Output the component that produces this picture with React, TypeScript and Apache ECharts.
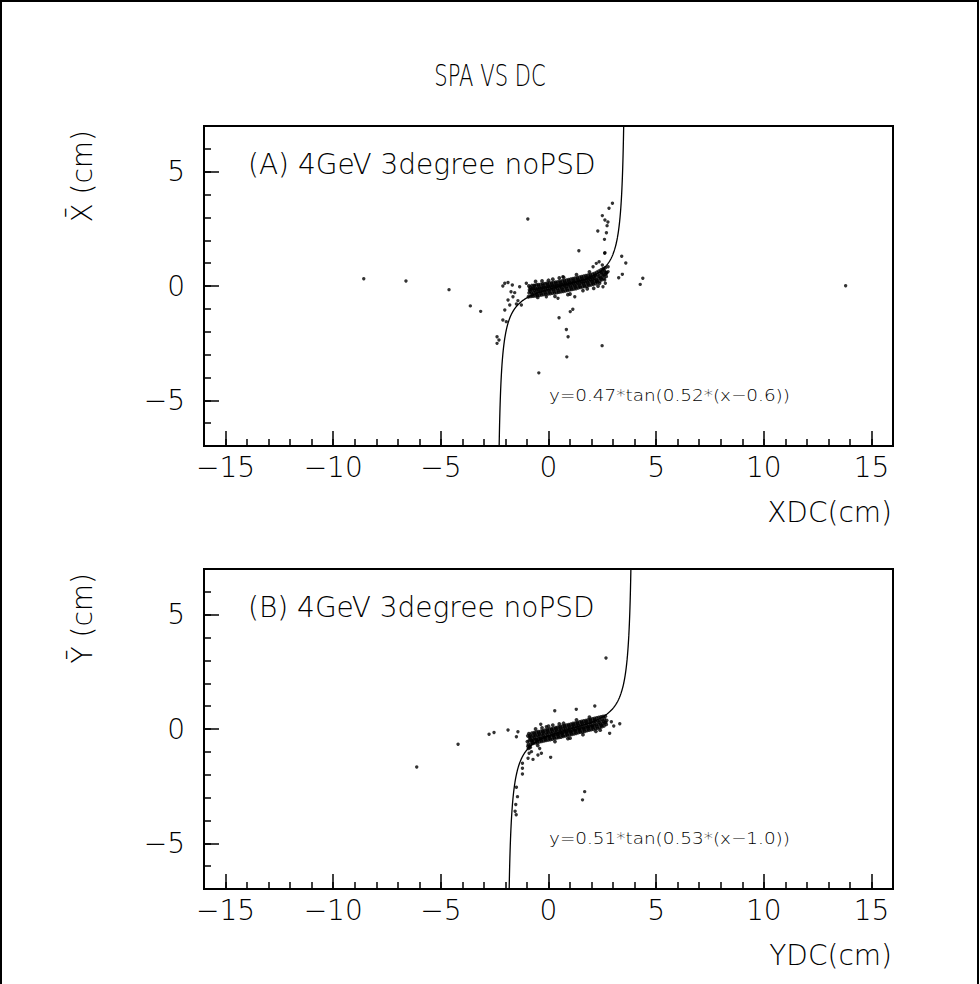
import React, { useEffect, useRef } from "react";
import * as echarts from "echarts";

// ---------- axes ----------
const X_RANGE = [-16, 16];
const Y_RANGE = [-7, 7];
const X_MAJOR = [-15, -10, -5, 0, 5, 10, 15];
const X_MINOR = [-15, -14, -13, -12, -11, -10, -9, -8, -7, -6, -5, -4, -3, -2, -1, 0, 1, 2, 3, 4, 5, 6, 7, 8, 9, 10, 11, 12, 13, 14, 15];
const Y_MAJOR = [-5, 0, 5];
const Y_MINOR = [-6, -5, -4, -3, -2, -1, 0, 1, 2, 3, 4, 5, 6];

// ---------- texts ----------
const TITLE = "SPA VS DC";
const PANEL_LABELS = ["(A) 4GeV 3degree noPSD", "(B) 4GeV 3degree noPSD"];
const FIT_LABELS = ["y=0.47*tan(0.52*(x\u22120.6))", "y=0.51*tan(0.53*(x\u22121.0))"];
const X_NAMES = ["XDC(cm)", "YDC(cm)"];
const Y_NAMES = ["X\u0304 (cm)", "Y\u0304 (cm)"];

// ---------- fit parameters a*tan(b*(x-c)) ----------
const FIT_A = [0.47, 0.52, 0.6];
const FIT_B = [0.51, 0.53, 1.0];

// ---------- panel A points ----------
const bandA: number[][] = [
  [-0.93, -0.47], [-0.9, -0.3], [-0.88, -0.16], [-0.91, 0.0],
  [-0.82, -0.45], [-0.79, -0.3], [-0.81, -0.14], [-0.77, 0.02],
  [-0.72, -0.44], [-0.69, -0.28], [-0.71, -0.12], [-0.67, 0.03],
  [-0.62, -0.43], [-0.58, -0.27], [-0.61, -0.11], [-0.56, 0.05],
  [-0.52, -0.42], [-0.48, -0.26], [-0.51, -0.1], [-0.47, 0.06],
  [-0.42, -0.4], [-0.38, -0.24], [-0.41, -0.08], [-0.36, 0.07],
  [-0.32, -0.39], [-0.28, -0.23], [-0.31, -0.07], [-0.26, 0.09],
  [-0.22, -0.37], [-0.18, -0.21], [-0.21, -0.05], [-0.16, 0.1],
  [-0.12, -0.36], [-0.08, -0.2], [-0.11, -0.04], [-0.06, 0.12],
  [-0.02, -0.34], [0.02, -0.18], [-0.01, -0.02], [0.04, 0.13],
  [0.08, -0.33], [0.12, -0.17], [0.09, -0.01], [0.14, 0.14],
  [0.18, -0.31], [0.22, -0.15], [0.19, 0.01], [0.24, 0.16],
  [0.28, -0.3], [0.32, -0.14], [0.29, 0.02], [0.34, 0.17],
  [0.38, -0.29], [0.42, -0.13], [0.39, 0.03], [0.44, 0.18],
  [0.48, -0.27], [0.52, -0.11], [0.49, 0.05], [0.54, 0.2],
  [0.58, -0.25], [0.62, -0.09], [0.59, 0.07], [0.64, 0.22],
  [0.68, -0.23], [0.72, -0.07], [0.69, 0.09], [0.74, 0.24],
  [0.78, -0.21], [0.82, -0.05], [0.79, 0.11], [0.84, 0.26],
  [0.88, -0.19], [0.92, -0.03], [0.89, 0.13], [0.94, 0.28],
  [0.98, -0.17], [1.02, -0.01], [0.99, 0.15], [1.04, 0.3],
  [1.08, -0.15], [1.12, 0.01], [1.09, 0.17], [1.14, 0.32],
  [1.18, -0.13], [1.22, 0.03], [1.19, 0.19], [1.24, 0.34],
  [1.28, -0.11], [1.32, 0.05], [1.29, 0.21], [1.34, 0.36],
  [1.38, -0.08], [1.42, 0.08], [1.39, 0.24], [1.44, 0.39],
  [1.48, -0.06], [1.52, 0.1], [1.49, 0.26], [1.54, 0.41],
  [1.58, -0.04], [1.62, 0.12], [1.59, 0.28], [1.64, 0.43],
  [1.68, -0.02], [1.72, 0.14], [1.69, 0.3], [1.74, 0.45],
  [1.78, 0.0], [1.82, 0.16], [1.79, 0.32], [1.84, 0.47],
  [1.88, 0.03], [1.92, 0.19], [1.89, 0.35], [1.94, 0.5],
  [1.98, 0.05], [2.02, 0.21], [1.99, 0.37], [2.04, 0.52],
  [2.08, 0.08], [2.12, 0.24], [2.09, 0.4], [2.14, 0.55],
  [2.18, 0.11], [2.22, 0.28], [2.19, 0.44], [2.24, 0.6],
  [2.28, 0.16], [2.32, 0.33], [2.29, 0.49], [2.34, 0.65],
  [2.38, 0.21], [2.42, 0.38], [2.39, 0.54], [2.44, 0.7],
  [2.48, 0.28], [2.52, 0.45], [2.49, 0.61], [2.54, 0.76],
  [2.58, 0.34], [2.62, 0.5], [2.59, 0.66], [2.64, 0.8],
  [2.68, 0.42], [2.7, 0.58],
  [-0.85, -0.22], [-0.75, -0.38], [-0.65, -0.19], [-0.55, -0.35], [-0.45, -0.17], [-0.35, -0.32],
  [-0.25, -0.14], [-0.15, -0.29], [-0.05, -0.11], [0.05, -0.26], [0.15, -0.08], [0.25, -0.22],
  [0.35, -0.05], [0.45, -0.2], [0.55, -0.02], [0.65, -0.16], [0.75, 0.02], [0.85, -0.12],
  [0.95, 0.06], [1.05, -0.08], [1.15, 0.1], [1.25, -0.04], [1.35, 0.14], [1.45, 0.0],
  [1.55, 0.18], [1.65, 0.04], [1.75, 0.23], [1.85, 0.09], [1.95, 0.28], [2.05, 0.14],
  [2.15, 0.34], [2.25, 0.22], [2.35, 0.42], [2.45, 0.32], [2.55, 0.5], [2.65, 0.6],
  [-0.85, -0.05], [-0.65, 0.0], [-0.45, -0.01], [-0.25, 0.02], [-0.05, 0.05], [0.15, 0.08],
  [0.35, 0.11], [0.55, 0.14], [0.75, 0.17], [0.95, 0.21], [1.15, 0.25], [1.35, 0.29],
  [1.55, 0.33], [1.75, 0.37], [1.95, 0.42], [2.15, 0.47],
  [-0.75, -0.12], [-0.55, -0.15], [-0.35, -0.12], [-0.15, -0.08], [0.05, -0.04], [0.25, -0.01],
  [0.45, 0.02], [0.65, 0.05], [0.85, 0.08], [1.05, 0.12], [1.25, 0.15], [1.45, 0.19],
  [1.65, 0.2], [1.85, 0.27], [2.05, 0.3],
  [-0.6, 0.2], [0.0, 0.25], [0.3, -0.45], [0.7, 0.38], [1.0, -0.35], [1.3, 0.5], [1.6, -0.2],
  [1.9, 0.62], [2.1, -0.1], [-0.3, 0.22], [0.5, 0.35], [0.9, -0.38], [1.8, -0.12], [2.3, 0.0],
  [-0.5, -0.5], [0.2, 0.3],
];
const outliersA: number[][] = [
  [-8.58, 0.32], [-6.62, 0.22], [-4.62, -0.16], [-3.63, -0.87], [-3.15, -1.11],
  [2.97, 3.62], [2.81, 3.4], [2.5, 3.08], [2.62, 2.89], [2.76, 2.8], [2.72, 2.64], [2.69, 2.33],
  [2.6, 2.04], [2.62, 1.46], [3.4, 1.3], [3.59, 1.01], [3.43, 0.51], [3.26, 0.36], [4.38, 0.34],
  [4.26, 0.07], [13.8, 0.01],
  [-0.96, 2.93], [1.41, 1.54], [2.29, 2.41], [2.61, 1.43],
  [0.49, -1.39], [0.83, -1.9], [0.91, -2.22], [1.01, -1.12], [1.13, -1.02], [2.49, -2.61],
  [0.85, -3.1], [-0.45, -3.8],
  [-2.03, -1.05], [-2.12, -1.49], [-1.96, -1.56], [-2.39, -2.22], [-2.3, -2.36], [-2.39, -2.51],
  [-2.03, 0.12], [-1.88, 0.15], [-1.68, 0.04], [-2.12, 0.0], [-1.74, -0.25], [-1.57, -0.29],
  [-1.65, -0.47], [-1.42, -0.64], [-1.49, -0.79], [-1.8, -0.83], [-1.26, -0.83], [-1.88, -0.61],
  [2.07, 0.84], [2.22, 0.99], [2.35, 1.06], [2.5, 0.92], [2.56, 0.73], [2.46, 0.58], [2.69, 0.56],
  [2.77, 0.63], [2.61, 0.26], [2.64, 0.12], [2.53, -0.03], [2.38, 0.12], [2.22, 0.19], [2.77, 0.84],
  [0.44, -0.54], [1.22, -0.47], [-0.1, -0.47], [0.67, 0.41], [-1.34, -0.03], [-1.03, 0.12],
];

// ---------- panel B points ----------
const bandB: number[][] = [
  [-0.93, -0.68], [-0.9, -0.52], [-0.88, -0.36], [-0.91, -0.2],
  [-0.82, -0.66], [-0.79, -0.5], [-0.81, -0.34], [-0.77, -0.18],
  [-0.72, -0.63], [-0.69, -0.47], [-0.71, -0.31], [-0.67, -0.16],
  [-0.62, -0.61], [-0.58, -0.45], [-0.61, -0.29], [-0.56, -0.14],
  [-0.52, -0.59], [-0.48, -0.43], [-0.51, -0.27], [-0.47, -0.12],
  [-0.42, -0.56], [-0.38, -0.41], [-0.41, -0.25], [-0.36, -0.1],
  [-0.32, -0.54], [-0.28, -0.39], [-0.31, -0.23], [-0.26, -0.08],
  [-0.22, -0.52], [-0.18, -0.36], [-0.21, -0.2], [-0.16, -0.05],
  [-0.12, -0.5], [-0.08, -0.34], [-0.11, -0.18], [-0.06, -0.03],
  [-0.02, -0.48], [0.02, -0.32], [-0.01, -0.16], [0.04, -0.01],
  [0.08, -0.46], [0.12, -0.3], [0.09, -0.14], [0.14, 0.01],
  [0.18, -0.44], [0.22, -0.28], [0.19, -0.12], [0.24, 0.03],
  [0.28, -0.41], [0.32, -0.25], [0.29, -0.09], [0.34, 0.06],
  [0.38, -0.39], [0.42, -0.23], [0.39, -0.07], [0.44, 0.08],
  [0.48, -0.37], [0.52, -0.21], [0.49, -0.05], [0.54, 0.1],
  [0.58, -0.35], [0.62, -0.19], [0.59, -0.03], [0.64, 0.12],
  [0.68, -0.32], [0.72, -0.16], [0.69, 0.0], [0.74, 0.15],
  [0.78, -0.3], [0.82, -0.14], [0.79, 0.02], [0.84, 0.17],
  [0.88, -0.28], [0.92, -0.12], [0.89, 0.04], [0.94, 0.19],
  [0.98, -0.26], [1.02, -0.1], [0.99, 0.06], [1.04, 0.21],
  [1.08, -0.23], [1.12, -0.07], [1.09, 0.09], [1.14, 0.24],
  [1.18, -0.21], [1.22, -0.05], [1.19, 0.11], [1.24, 0.26],
  [1.28, -0.19], [1.32, -0.03], [1.29, 0.13], [1.34, 0.28],
  [1.38, -0.16], [1.42, 0.0], [1.39, 0.16], [1.44, 0.31],
  [1.48, -0.14], [1.52, 0.02], [1.49, 0.18], [1.54, 0.33],
  [1.58, -0.12], [1.62, 0.04], [1.59, 0.2], [1.64, 0.35],
  [1.68, -0.1], [1.72, 0.06], [1.69, 0.22], [1.74, 0.37],
  [1.78, -0.07], [1.82, 0.09], [1.79, 0.25], [1.84, 0.4],
  [1.88, -0.05], [1.92, 0.11], [1.89, 0.27], [1.94, 0.42],
  [1.98, -0.03], [2.02, 0.13], [1.99, 0.29], [2.04, 0.44],
  [2.08, -0.01], [2.12, 0.15], [2.09, 0.31], [2.14, 0.46],
  [2.18, 0.02], [2.22, 0.18], [2.19, 0.34], [2.24, 0.49],
  [2.28, 0.04], [2.32, 0.2], [2.29, 0.36], [2.34, 0.51],
  [2.38, 0.06], [2.42, 0.22], [2.39, 0.38], [2.44, 0.53],
  [2.48, 0.1], [2.52, 0.25], [2.49, 0.4], [2.54, 0.55],
  [2.58, 0.14], [2.62, 0.28], [2.59, 0.44], [2.64, 0.56],
  [2.68, 0.2], [2.7, 0.38],
  [-0.85, -0.43], [-0.75, -0.58], [-0.65, -0.38], [-0.55, -0.53], [-0.45, -0.33], [-0.35, -0.48],
  [-0.25, -0.29], [-0.15, -0.44], [-0.05, -0.25], [0.05, -0.4], [0.15, -0.2], [0.25, -0.36],
  [0.35, -0.16], [0.45, -0.31], [0.55, -0.12], [0.65, -0.27], [0.75, -0.07], [0.85, -0.22],
  [0.95, -0.03], [1.05, -0.17], [1.15, 0.02], [1.25, -0.12], [1.35, 0.07], [1.45, -0.08],
  [1.55, 0.11], [1.65, -0.03], [1.75, 0.16], [1.85, 0.02], [1.95, 0.2], [2.05, 0.07],
  [2.15, 0.25], [2.25, 0.11], [2.35, 0.29], [2.45, 0.16], [2.55, 0.33], [2.65, 0.3],
  [-0.85, -0.27], [-0.65, -0.22], [-0.45, -0.18], [-0.25, -0.13], [-0.05, -0.09], [0.15, -0.04],
  [0.35, 0.0], [0.55, 0.04], [0.75, 0.09], [0.95, 0.13], [1.15, 0.18], [1.35, 0.22],
  [1.55, 0.27], [1.75, 0.31], [1.95, 0.36], [2.15, 0.4],
  [-0.75, -0.5], [-0.55, -0.45], [-0.35, -0.4], [-0.15, -0.36], [0.05, -0.31], [0.25, -0.27],
  [0.45, -0.22], [0.65, -0.18], [0.85, -0.13], [1.05, -0.09], [1.25, -0.05], [1.45, 0.0],
  [1.65, 0.05], [1.85, 0.09], [2.05, 0.14],
  [-0.95, -0.75], [-0.98, -0.55], [-0.96, -0.3], [-0.93, -0.85], [-0.85, -0.8],
  [-0.6, 0.0], [0.0, 0.12], [0.3, -0.55], [0.7, 0.25], [1.0, -0.4], [1.3, 0.4], [1.6, -0.25],
  [1.9, 0.52], [2.2, -0.1], [-0.3, 0.05], [0.5, 0.22], [0.9, -0.42], [2.4, -0.05], [-0.5, -0.72],
  [0.2, 0.17],
];
const outliersB: number[][] = [
  [-4.2, -0.67], [-2.76, -0.23], [-2.53, -0.15], [-1.88, -0.04], [-1.42, -0.12], [-1.49, -0.34],
  [0.29, 0.8], [1.29, 0.86], [2.15, 1.01], [-0.36, 0.21], [-0.1, 0.1],
  [2.92, 0.32], [3.31, 0.23], [3.03, 0.13], [2.84, -0.19],
  [-0.87, -0.77], [-0.79, -0.99], [-0.9, -1.06], [-0.72, -1.33], [-0.95, -1.28], [-0.41, -0.85],
  [-0.33, -1.06], [-0.49, -1.14], [0.1, -1.24],
  [-1.21, -1.5], [-1.21, -1.72], [-1.21, -1.97], [-1.49, -2.55], [-1.44, -2.96], [-1.52, -3.3],
  [-1.55, -3.6], [-1.5, -3.75],
  [1.68, -2.74], [1.58, -3.1], [2.67, 3.11], [-6.12, -1.66],
];

// ---------- layout ----------
const FONT = "'DejaVu Sans', sans-serif";
const GRID_LEFT = 204;
const GRID_W = 689;
const GRID_H = 320;
const GRID_TOPS = [126, 569];

function fitCurve(p: number[]): number[][] {
  const [a, b, c] = p;
  const half = Math.PI / (2 * b);
  const lo = c - half;
  const hi = c + half;
  const pts: number[][] = [];
  const n = 3000;
  for (let i = 1; i < n; i++) {
    const x = lo + ((hi - lo) * i) / n;
    const y = a * Math.tan(b * (x - c));
    if (Math.abs(y) < 40) pts.push([x, y]);
  }
  return pts;
}

const fmt = (v: number) => (v < 0 ? "\u2212" + Math.abs(v) : String(v));

export default function App() {
  const ref = useRef<HTMLDivElement>(null);
  useEffect(() => {
    if (!ref.current) return;
    const chart = echarts.init(ref.current, undefined, { renderer: "svg" });
    const grids: any[] = [];
    const xAxes: any[] = [];
    const yAxes: any[] = [];
    const labelFont = { color: "#000", fontFamily: FONT, fontWeight: 200, fontSize: 28 };
    GRID_TOPS.forEach((top, gi) => {
      grids.push({
        left: GRID_LEFT, top, width: GRID_W, height: GRID_H,
        show: true, borderColor: "#000", borderWidth: 2, backgroundColor: "transparent",
      });
      xAxes.push({
        type: "value", gridIndex: gi, min: X_RANGE[0], max: X_RANGE[1], position: "bottom",
        axisLine: { show: true, onZero: false, lineStyle: { color: "#000", width: 2 } },
        axisTick: { show: true, inside: true, length: 15, customValues: X_MAJOR, lineStyle: { color: "#000", width: 1.5 } },
        axisLabel: { show: true, customValues: X_MAJOR, formatter: fmt, ...labelFont, margin: 7 },
        splitLine: { show: false },
      });
      xAxes.push({
        type: "value", gridIndex: gi, min: X_RANGE[0], max: X_RANGE[1], position: "bottom", offset: 0,
        axisLine: { show: false, onZero: false },
        axisTick: { show: true, inside: true, length: 7, customValues: X_MINOR, lineStyle: { color: "#000", width: 1.5 } },
        axisLabel: { show: false },
        splitLine: { show: false },
      });
      yAxes.push({
        type: "value", gridIndex: gi, min: Y_RANGE[0], max: Y_RANGE[1], position: "left",
        axisLine: { show: true, onZero: false, lineStyle: { color: "#000", width: 2 } },
        axisTick: { show: true, inside: true, length: 15, customValues: Y_MAJOR, lineStyle: { color: "#000", width: 1.5 } },
        axisLabel: { show: true, customValues: Y_MAJOR, formatter: fmt, ...labelFont, margin: 19 },
        splitLine: { show: false },
      });
      yAxes.push({
        type: "value", gridIndex: gi, min: Y_RANGE[0], max: Y_RANGE[1], position: "left", offset: 0,
        axisLine: { show: false, onZero: false },
        axisTick: { show: true, inside: true, length: 7, customValues: Y_MINOR, lineStyle: { color: "#000", width: 1.5 } },
        axisLabel: { show: false },
        splitLine: { show: false },
      });
    });

    const series: any[] = [];
    [[bandA, outliersA, FIT_A], [bandB, outliersB, FIT_B]].forEach((d: any, gi) => {
      series.push({
        type: "scatter", xAxisIndex: gi * 2, yAxisIndex: gi * 2,
        data: d[0], symbol: "circle", symbolSize: 3.8,
        itemStyle: { color: "#000" }, silent: true,
      });
      series.push({
        type: "scatter", xAxisIndex: gi * 2, yAxisIndex: gi * 2,
        data: d[1], symbol: "circle", symbolSize: 3.4,
        itemStyle: { color: "#000" }, silent: true,
      });
      series.push({
        type: "line", xAxisIndex: gi * 2, yAxisIndex: gi * 2, data: fitCurve(d[2]),
        showSymbol: false, symbol: "none", clip: true, smooth: false,
        lineStyle: { color: "#000", width: 1.3 }, silent: true,
      });
    });

    const txt = { fontFamily: FONT, fontWeight: 200, fill: "#000" };
    const texts: any[] = [
      { type: "rect", shape: { x: 1, y: 1, width: 977, height: 1100 }, style: { fill: "none", stroke: "#000", lineWidth: 2 }, silent: true },
      { type: "text", x: 490, y: 75, scaleX: 0.68, style: { text: TITLE, ...txt, fontSize: 31, align: "center", verticalAlign: "middle" } },
    ];
    GRID_TOPS.forEach((top, gi) => {
      const dy = top - GRID_TOPS[0];
      texts.push({ type: "text", x: 248, y: 164 + dy, style: { text: PANEL_LABELS[gi], ...txt, fontSize: 28, align: "left", verticalAlign: "middle" } });
      texts.push({ type: "text", x: 549, y: 395 + dy, scaleX: 1.15, style: { text: FIT_LABELS[gi], ...txt, fontSize: 16, align: "left", verticalAlign: "middle" } });
      texts.push({ type: "text", x: 892, y: 512 + dy, style: { text: X_NAMES[gi], ...txt, fontSize: 28, align: "right", verticalAlign: "middle" } });
      texts.push({ type: "text", x: 82, y: 130 + dy, rotation: Math.PI / 2, style: { text: Y_NAMES[gi], ...txt, fontSize: 28, align: "right", verticalAlign: "middle" } });
    });

    chart.setOption({
      animation: false,
      backgroundColor: "#fff",
      grid: grids,
      xAxis: xAxes,
      yAxis: yAxes,
      series,
      graphic: texts,
    });
    return () => chart.dispose();
  }, []);
  return <div ref={ref} style={{ position: "absolute", left: 0, top: 0, width: 980, height: 984 }} />;
}
